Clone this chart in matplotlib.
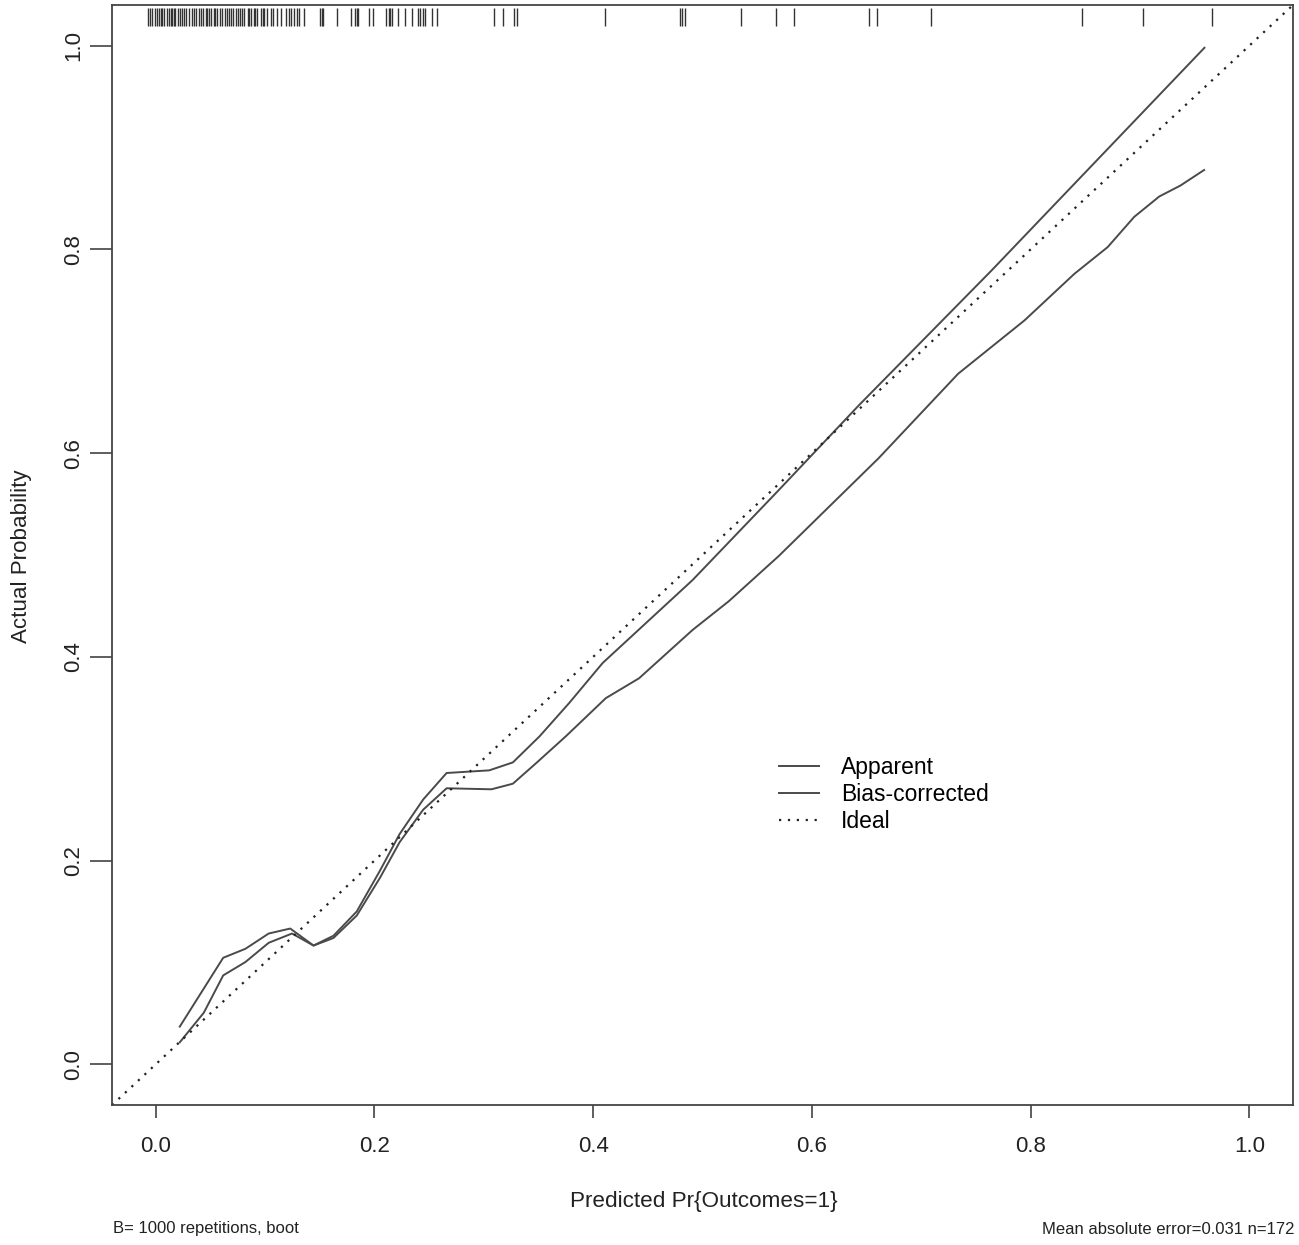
import numpy as np
import matplotlib
matplotlib.use("Agg")
from matplotlib import pyplot as plt

plt.rcParams['font.family'] = ['Liberation Sans', 'DejaVu Sans']

# calibration curves
app_x = [0.022, 0.0617, 0.082, 0.1033, 0.123, 0.1443, 0.1625, 0.1838, 0.205, 0.223,
         0.2446, 0.266, 0.305, 0.3266, 0.351, 0.378, 0.4087, 0.491, 0.5697, 0.643,
         0.764, 0.959]
app_y = [0.037, 0.1046, 0.1134, 0.1284, 0.1333, 0.1166, 0.1262, 0.150, 0.190, 0.226,
         0.260, 0.286, 0.2886, 0.2964, 0.322, 0.3546, 0.394, 0.4755, 0.5637, 0.647,
         0.779, 0.998]

bc_x = [0.022, 0.044, 0.0617, 0.082, 0.1033, 0.1246, 0.1443, 0.1625, 0.1838, 0.205,
        0.223, 0.2446, 0.266, 0.307, 0.3266, 0.348, 0.375, 0.4116, 0.442, 0.491,
        0.524, 0.5697, 0.661, 0.7338, 0.7945, 0.840, 0.8705, 0.8948, 0.9177, 0.937,
        0.9587]
bc_y = [0.0216, 0.0507, 0.0873, 0.1004, 0.1193, 0.1284, 0.1166, 0.1240, 0.146, 0.183,
        0.218, 0.250, 0.271, 0.270, 0.2755, 0.2958, 0.322, 0.3595, 0.379, 0.4265,
        0.4546, 0.499, 0.595, 0.678, 0.7304, 0.776, 0.8023, 0.832, 0.852, 0.8627,
        0.878]

# distribution of predicted risks (rug on top)
risk = [-0.007, -0.005, -0.003, -0.001, 0.001, 0.003, 0.005, 0.006, 0.008, 0.010,
        0.012, 0.014, 0.015, 0.017, 0.018, 0.020, 0.022, 0.024, 0.026, 0.028,
        0.030, 0.033, 0.035, 0.037, 0.040, 0.041, 0.043, 0.046, 0.047, 0.049,
        0.051, 0.053, 0.054, 0.056, 0.059, 0.061, 0.063, 0.065, 0.067, 0.069,
        0.071, 0.073, 0.075, 0.077, 0.079, 0.081, 0.084, 0.085, 0.087, 0.090,
        0.091, 0.093, 0.096, 0.098, 0.099, 0.102, 0.105, 0.107, 0.111, 0.115,
        0.119, 0.122, 0.124, 0.126, 0.129, 0.131, 0.136, 0.150, 0.152, 0.153,
        0.166, 0.179, 0.182, 0.184, 0.185, 0.195, 0.199, 0.211, 0.213, 0.214,
        0.216, 0.222, 0.228, 0.234, 0.240, 0.242, 0.244, 0.246, 0.253, 0.257,
        0.309, 0.318, 0.328, 0.330, 0.411, 0.479, 0.481, 0.484, 0.535, 0.567,
        0.584, 0.652, 0.660, 0.709, 0.847, 0.903, 0.966]

ticks = [0.0, 0.2, 0.4, 0.6, 0.8, 1.0]
tick_labels = ["0.0", "0.2", "0.4", "0.6", "0.8", "1.0"]

fig = plt.figure(figsize=(12.99, 12.45), dpi=100)
ax = fig.add_axes([0.0862, 0.1124, 0.9092, 0.8836])

line_col = "#4a4a4a"
ax.plot(app_x, app_y, color=line_col, lw=1.4, label="Apparent")
ax.plot(bc_x, bc_y, color=line_col, lw=1.4, label="Bias-corrected")
ax.axline((0, 0), (1, 1), color="#222222", lw=1.6, linestyle=(0, (1, 3)), label="Ideal")

ax.vlines(risk, 1.019, 1.037, color="#333333", lw=1.0)

ax.set_xlim(-0.04, 1.04)
ax.set_ylim(-0.04, 1.04)
ax.set_xticks(ticks)
ax.set_xticklabels(tick_labels)
ax.set_yticks(ticks)
ax.set_yticklabels(tick_labels, rotation=90, va="center")
ax.tick_params(axis="both", direction="out", width=1.1, colors="#333333",
               labelsize=16, labelcolor="#222222")
ax.tick_params(axis="x", length=9.5, pad=13)
ax.tick_params(axis="y", length=16, pad=4)
for s in ax.spines.values():
    s.set_color("#444444")
    s.set_linewidth(1.3)

fig.text(704 / 1299, 1 - 1201 / 1245, "Predicted Pr{Outcomes=1}", ha="center", va="center",
         fontsize=16.2, color="#222222")
fig.text(22 / 1299, 1 - 556 / 1245, "Actual Probability", ha="center", va="center",
         rotation=90, fontsize=16.1, color="#222222")
fig.text(113 / 1299, 1 - 1229 / 1245, "B= 1000 repetitions, boot", ha="left", va="center",
         fontsize=12, color="#222222")
fig.text(1295 / 1299, 1 - 1229 / 1245, "Mean absolute error=0.031 n=172", ha="right",
         va="center", fontsize=12, color="#222222")

ax.legend(loc="upper left", bbox_to_anchor=(0.555, 0.328), frameon=False, fontsize=16.5,
          handlelength=1.75, handletextpad=0.96, labelspacing=0.18, borderpad=0)

fig.savefig("out.png", dpi=100)
